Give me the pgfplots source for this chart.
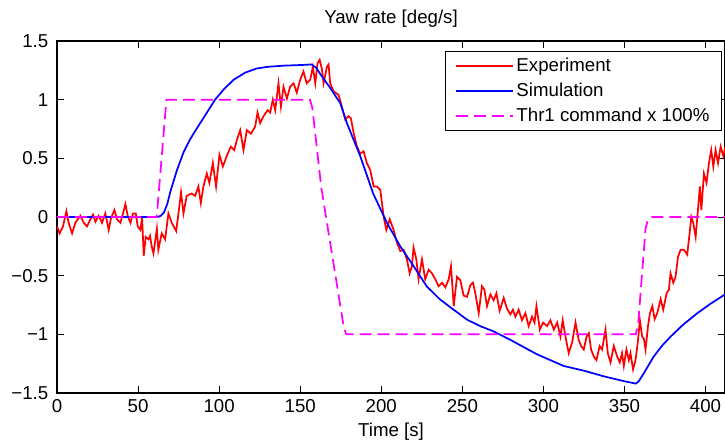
\documentclass[border=0pt]{standalone}
\usepackage{pgfplots}
\pgfplotsset{compat=1.18}
\usepackage{fontspec}
\setmainfont{Liberation Sans}

\definecolor{expred}{RGB}{255,0,0}
\definecolor{simblue}{RGB}{0,0,255}
\definecolor{cmdmag}{RGB}{255,0,255}

\begin{document}
\begin{tikzpicture}
\begin{axis}[
    name=ax,
    scale only axis,
    width=501pt, height=264pt,
    xmin=0, xmax=412,
    ymin=-1.5, ymax=1.5,
    xtick={0,50,...,400},
    ytick={-1.5,-1,-0.5,0,0.5,1,1.5},
    yticklabels={−1.5,−1,−0.5,0,0.5,1,1.5},
    tick align=inside,
    major tick length=5pt,
    axis line style={line width=0.8pt},
    every tick/.style={black, line width=0.6pt},
    /pgf/number format/assume math mode=true,
    font=\fontsize{14}{16}\selectfont,
    tick label style={font=\fontsize{14}{16}\selectfont},
    yticklabel style={xshift=-3pt},
    xticklabel style={yshift=-1.5pt},
    title={Yaw rate [deg/s]},
    title style={at={(axis description cs:0.5,1)}, anchor=south, inner sep=0pt, yshift=4pt},
    xlabel={Time [s]},
    xlabel style={at={(axis description cs:0.5,0)}, anchor=north, inner sep=0pt, yshift=-22pt},
    legend cell align=left,
    legend style={at={(rel axis cs:0.9955,0.9716)}, anchor=north east,
        draw=black, line width=0.8pt, inner xsep=7pt, inner ysep=3pt,
        font=\fontsize{14}{16}\selectfont, row sep=3pt},
    legend image code/.code={\draw[#1] (0pt,0pt) -- (43pt,0pt);},
]
% experiment
\addplot[color=expred, line width=1.3pt] coordinates {
(0,-0.08) (1.6,-0.14) (3.7,-0.08) (5.8,0.05) (7.2,-0.05) (9.3,-0.14) (11.3,-0.05)
(12.8,-0.02) (14.4,0.01) (16.5,-0.05) (18.5,-0.08) (20.6,-0.02) (22.2,0.02)
(23.7,-0.04) (25.7,0.01) (27.8,-0.05) (29.8,0.03) (31.9,-0.11) (33.3,-0.01)
(35.4,0.06) (37,-0.02) (39.1,-0.05) (40.7,0.03) (42.2,0.11) (43.6,0.01)
(45.3,-0.05) (46.9,0.03) (48.6,0.03) (49.8,-0.08) (51.4,-0.11) (52.5,-0.01)
(53.5,-0.33) (54.7,-0.17) (56.4,-0.19) (57.4,-0.16) (58.4,-0.25) (59.5,-0.31)
(61.6,-0.10) (62.5,-0.28) (64.6,-0.14) (66.7,-0.19) (68.7,0.03) (70.8,-0.05)
(73.5,-0.12) (74.9,0.03) (76.5,0.21) (78,0.03) (80,0.18) (83,0.20) (85.2,0.18)
(87.2,0.26) (88.7,0.12) (90.3,0.26) (92.4,0.37) (94,0.29) (96.1,0.46) (98.1,0.26)
(100.2,0.53) (102.3,0.43) (104.7,0.52) (107.2,0.60) (109.3,0.57) (111,0.66)
(113,0.74) (115,0.57) (117.1,0.74) (119.6,0.71) (122.2,0.77) (123.7,0.89)
(125.3,0.80) (127.4,0.86) (129.9,0.91) (131.5,0.89) (133.1,1.00) (134.6,0.91)
(136.6,1.14) (138.1,0.94) (139.7,1.11) (141.8,1.01) (143.8,1.11) (145.9,1.14)
(147.9,1.06) (150,1.17) (152,1.24) (154,1.14) (156.2,1.17) (157.8,1.28)
(159.3,1.14) (160.7,1.31) (162,1.34) (163.4,1.26) (164.4,1.14) (166.5,1.28)
(167.5,1.30) (168.5,1.14) (170.6,1.07) (173.7,1.04) (175.7,0.94) (177.8,0.83)
(179.8,0.86) (181.3,0.84) (182.9,0.72) (185,0.60) (187,0.54) (189.1,0.56)
(191.1,0.46) (193.2,0.40) (195.3,0.26) (197.3,0.26) (199.4,0.23) (201.5,0.00)
(203.1,-0.11) (205.2,-0.02) (207.6,-0.11) (209.7,-0.22) (211.7,-0.29)
(213.8,-0.28) (215.8,-0.36) (217.5,-0.48) (218.9,-0.42) (219.9,-0.26)
(221.6,-0.36) (223,-0.53) (225.1,-0.36) (227.1,-0.53) (229.2,-0.45)
(231.3,-0.48) (233.3,-0.53) (235.4,-0.59) (237.5,-0.56) (239.5,-0.60)
(241.6,-0.53) (243,-0.42) (244.7,-0.76) (246.7,-0.51) (248.8,-0.54)
(250.8,-0.67) (252.9,-0.68) (255,-0.58) (256.6,-0.56) (258,-0.65) (260.1,-0.82)
(262.1,-0.59) (263.6,-0.62) (265.2,-0.76) (267.3,-0.66) (269.3,-0.71)
(271,-0.65) (273,-0.80) (275.5,-0.69) (277.5,-0.78) (279.6,-0.83) (281.2,-0.79)
(282.7,-0.85) (284.7,-0.79) (286.8,-0.88) (288.9,-0.82) (290.9,-0.93)
(293,-0.85) (294.5,-0.90) (295.7,-0.76) (297.8,-0.96) (299.8,-0.90)
(302.3,-0.93) (304.3,-0.88) (306.4,-0.96) (308.5,-0.90) (310.5,-1.02)
(311.9,-0.88) (313.6,-1.02) (315.6,-1.16) (317.7,-1.07) (319.8,-0.90)
(321.8,-1.05) (323.3,-1.10) (324.9,-1.13) (326.6,-1.02) (328,-0.99)
(329.4,-1.13) (331.1,-1.19) (332.7,-1.22) (334.7,-1.10) (336.2,-1.13)
(338.3,-0.96) (339.7,-1.16) (341.4,-1.24) (343.4,-1.10) (345.5,-1.19)
(347.1,-1.24) (348.5,-1.16) (349.6,-1.27) (351.2,-1.13) (352.7,-1.22)
(353.7,-1.16) (355.3,-1.30) (356.8,-1.22) (358.2,-1.07) (359.5,-0.88)
(360.9,-1.02) (362,-1.04) (363,-1.13) (364.5,-0.93) (365.7,-0.82) (367.2,-0.76)
(368.6,-0.87) (370.2,-0.82) (372.3,-0.70) (373.9,-0.79) (376,-0.65)
(377.4,-0.62) (378.4,-0.48) (380.1,-0.56) (381.5,-0.51) (383,-0.34)
(384.6,-0.28) (386.7,-0.28) (388.7,-0.32) (390.4,-0.11) (391.2,0.00)
(392.4,-0.05) (393.9,-0.17) (395.3,0.06) (396.5,0.26) (397.4,0.06) (399,0.37)
(400.6,0.29) (402.1,0.46) (403.5,0.57) (404.8,0.43) (406.2,0.57) (407.7,0.46)
(409.3,0.60) (410.9,0.52) (412.3,0.60)
};
\addlegendentry{Experiment}
% simulation
\addplot[color=simblue, line width=1.3pt] coordinates {
(0,0) (62,0) (64,0.01) (66,0.04) (68,0.11) (70,0.22) (74,0.40) (78,0.55)
(82,0.66) (86,0.75) (92,0.88) (97.5,1.0) (103,1.09) (109,1.17) (116,1.23)
(123,1.265) (130,1.28) (140,1.29) (150,1.295) (157,1.30) (160,1.27)
(162.3,1.22) (168.5,1.10) (174.7,0.97) (178.8,0.80) (187,0.52) (195,0.20)
(203.5,-0.05) (211.7,-0.25) (220,-0.42) (228,-0.59) (236,-0.70) (244.6,-0.79)
(252.9,-0.875) (261,-0.93) (269.3,-0.975) (280,-1.05) (296,-1.17)
(312.6,-1.27) (325,-1.31) (337.2,-1.358) (350,-1.40) (357,-1.42)
(358.8,-1.40) (362,-1.33) (365,-1.26) (368,-1.19) (373,-1.10) (378.4,-1.02)
(386,-0.92) (394.9,-0.82) (403,-0.74) (412,-0.66)
};
\addlegendentry{Simulation}
% thruster command
\addplot[color=cmdmag, line width=1.3pt, dash pattern=on 9pt off 4.5pt] coordinates {
(0,0) (61.5,0) (67.5,1) (156,1) (157.5,0.93) (163,0.25) (177,-0.95)
(178.5,-1) (357,-1) (358.5,-0.9) (363,-0.1) (364.5,-0.02) (367,0) (412,0)
};
\addlegendentry{Thr1 command x 100\%}
\coordinate (bl) at (rel axis cs:0,0);
\coordinate (tr) at (rel axis cs:1,1);
\end{axis}
\pgfresetboundingbox
\path ([shift={(-42.75pt,-38.25pt)}]bl) rectangle ([shift={(0pt,30.75pt)}]tr);
\end{tikzpicture}
\end{document}
